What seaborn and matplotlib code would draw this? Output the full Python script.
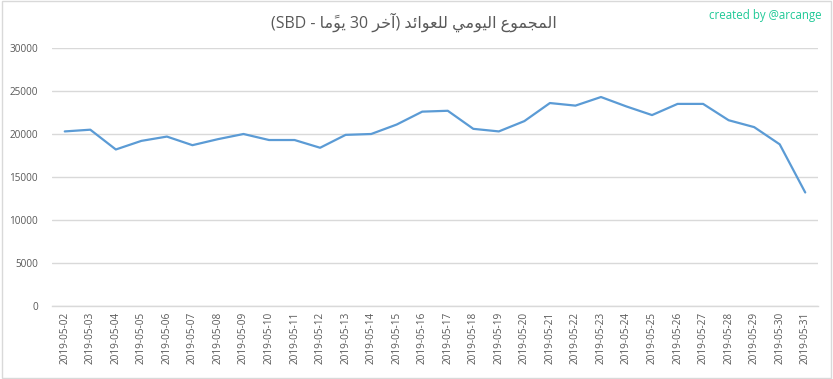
import matplotlib
matplotlib.use("Agg")
import matplotlib.pyplot as plt
import seaborn as sns
import pandas as pd

# daily totals (SBD)
dates = ["2019-05-%02d" % d for d in range(2, 32)]
values = [20300, 20500, 18200, 19200, 19700, 18700, 19400, 20000, 19300, 19300,
          18400, 19900, 20000, 21100, 22600, 22700, 20600, 20300, 21500, 23600,
          23300, 24300, 23200, 22200, 23500, 23500, 21600, 20800, 18800, 13200]
y_ticks = [0, 5000, 10000, 15000, 20000, 25000, 30000]

# title: "المجموع اليومي للعوائد (آخر 30 يومًا - SBD)"
# matplotlib has no Arabic shaping, so use presentation forms in visual order
w_total = "\uFEC9\uFEEE\uFEE4\uFEA0\uFEE4\uFEDF\uFE8D"
w_daily = "\uFEF2\uFEE3\uFEEE\uFEF4\uFEDF\uFE8D"
w_returns = "\uFEAA\uFE8B\uFE8D\uFEEE\uFECC\uFEE0\uFEDF"
w_last = "\uFEAE\uFEA7\uFE81"
w_days = "\uFE8E\uFEE3\u064B\uFEEE\uFEF3"
title = "(SBD - " + w_days + " 30 " + w_last + ") " + w_returns + " " + w_daily + " " + w_total

df = pd.DataFrame({"date": dates, "value": values})

sns.set_theme(style="white")
plt.rcParams["font.family"] = ["Open Sans", "DejaVu Sans"]

fig = plt.figure(figsize=(8.33, 3.79), dpi=100)
ax = fig.add_axes([52 / 833, 73 / 379, 766 / 833, 258 / 379])

sns.lineplot(data=df, x="date", y="value", ax=ax, color="#5b9bd5", linewidth=1.6, sort=False)

ax.set_xlim(-0.5, len(dates) - 0.5)
ax.set_ylim(0, 30000)
ax.set_yticks(y_ticks)
ax.set_yticklabels([str(v) for v in y_ticks])
ax.set_xticks(range(len(dates)))
ax.set_xticklabels(dates, rotation=90)
ax.tick_params(axis="both", length=0, labelsize=7.2, labelcolor="#595959")
ax.tick_params(axis="x", pad=4)
ax.tick_params(axis="y", pad=10)
ax.grid(axis="y", color="#d9d9d9", linewidth=1)
ax.set_axisbelow(True)
ax.set_xlabel("")
ax.set_ylabel("")
for s in ["left", "right", "top"]:
    ax.spines[s].set_visible(False)
ax.spines["bottom"].set_color("#d9d9d9")
ax.spines["bottom"].set_linewidth(1)

fig.text(414 / 833, 1 - 22 / 379, title, ha="center", va="center", fontsize=11.5, color="#595959")
fig.text(822 / 833, 1 - 15 / 379, "created by @arcange", ha="right", va="center",
         fontsize=8.3, color="#20c997")

# light frame around the chart area
fig.patches.append(plt.Rectangle((0.002, 0.003), 0.996, 0.994, transform=fig.transFigure,
                                 fill=False, edgecolor="#d9d9d9", linewidth=1))

fig.savefig("out.png", dpi=100)
